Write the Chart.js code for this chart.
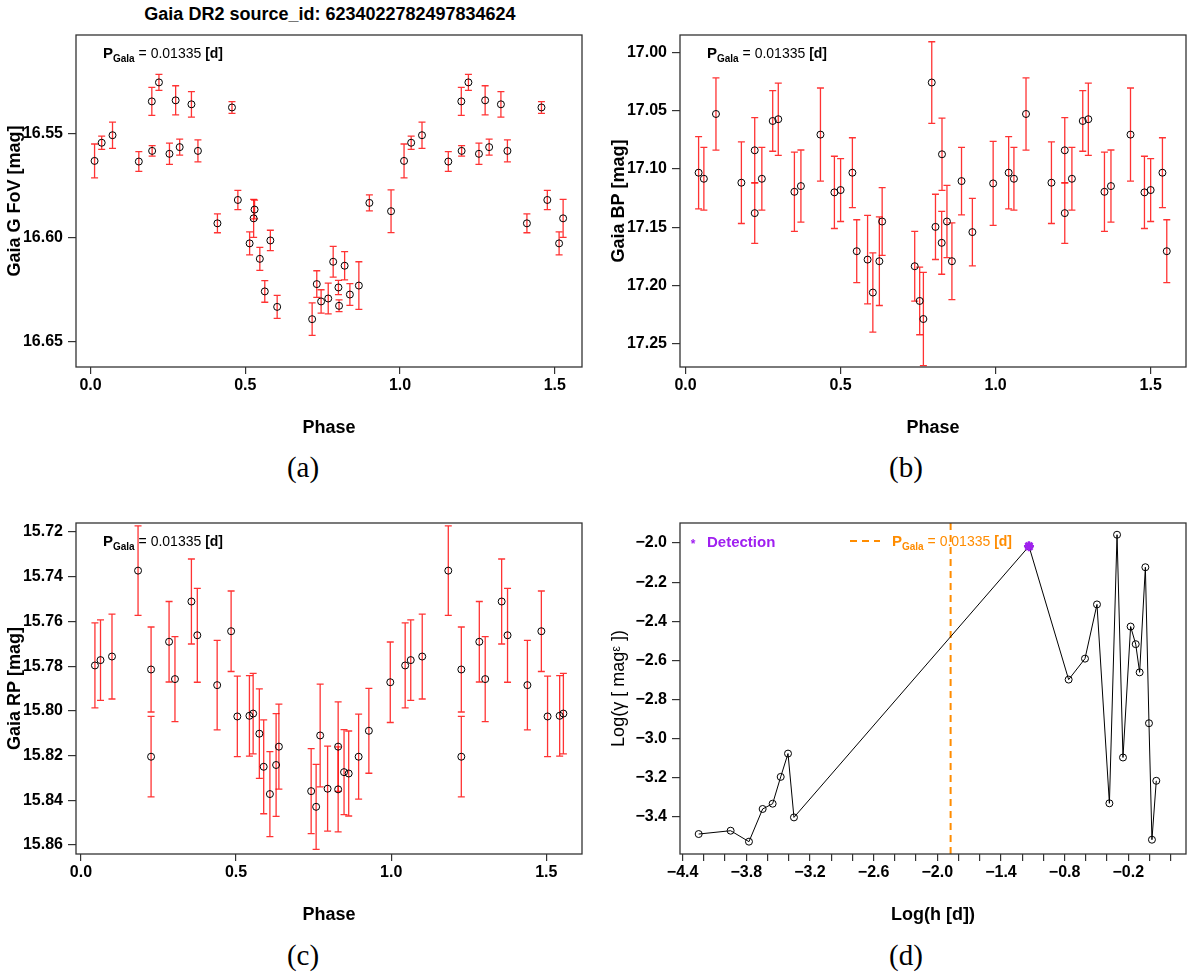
<!DOCTYPE html>
<html>
<head>
<meta charset="utf-8">
<script src="https://cdn.jsdelivr.net/npm/chart.js@4.4.0/dist/chart.umd.min.js"></script>
<style>
  body { margin: 0; background: #fff; }
  #page { position: relative; width: 1200px; height: 977px; overflow: hidden; font-family: "Liberation Sans", Arial, sans-serif; }
  canvas { position: absolute; }
  .title { position: absolute; left: 330px; top: 14px; transform: translate(-50%, -50%); font-weight: bold; font-size: 18px; white-space: nowrap; }
  .lab { position: absolute; transform: translate(-50%, -50%); font-family: "Liberation Serif", "DejaVu Serif", serif; font-size: 29px; }
</style>
</head>
<body>
<div id="page">
  <div class="title">Gaia DR2 source_id: 6234022782497834624</div>
  <canvas id="cA" width="604" height="450" style="left:0;top:0"></canvas>
  <canvas id="cB" width="596" height="450" style="left:604px;top:0"></canvas>
  <canvas id="cC" width="604" height="450" style="left:0;top:487px"></canvas>
  <canvas id="cD" width="596" height="450" style="left:604px;top:487px"></canvas>
  <div class="lab" style="left:303px;top:467px">(a)</div>
  <div class="lab" style="left:906px;top:467px">(b)</div>
  <div class="lab" style="left:303px;top:955px">(c)</div>
  <div class="lab" style="left:906px;top:955px">(d)</div>
</div>
<script>
// period found by Gaia [d]
const pGala = 0.01335

// (a) G FoV phased light curve (phase 0-1 plus repeated part up to ~1.53)
const gPhase = [0.013, 0.036, 0.071, 0.156, 0.198, 0.199, 0.221, 0.255, 0.275, 0.288, 0.326, 0.347,
  0.410, 0.457, 0.476, 0.514, 0.527, 0.530, 0.547, 0.563, 0.581, 0.603, 0.716, 0.731, 0.745, 0.768,
  0.784, 0.801, 0.803, 0.821, 0.838, 0.867, 0.901, 0.971,
  1.013, 1.036, 1.071, 1.156, 1.198, 1.199, 1.221, 1.255, 1.275, 1.288, 1.326, 1.347,
  1.410, 1.457, 1.476, 1.514, 1.527]
const gMag = [16.5633, 16.5546, 16.5510, 16.5636, 16.5348, 16.5585, 16.5257, 16.5599, 16.5343, 16.5567, 16.5362, 16.5585,
  16.5932, 16.5377, 16.5820, 16.6028, 16.5908, 16.5866, 16.6102, 16.6258, 16.6014, 16.6332, 16.6391, 16.6223, 16.6306, 16.6292,
  16.6116, 16.6239, 16.6327, 16.6135, 16.6273, 16.6230, 16.5834, 16.5874,
  16.5633, 16.5546, 16.5510, 16.5636, 16.5348, 16.5585, 16.5257, 16.5599, 16.5343, 16.5567, 16.5362, 16.5585,
  16.5932, 16.5377, 16.5820, 16.6028, 16.5908]
const gErr = [0.0081, 0.0032, 0.0063, 0.0047, 0.0067, 0.0025, 0.0038, 0.0051, 0.0070, 0.0038, 0.0061, 0.0053,
  0.0045, 0.0028, 0.0046, 0.0055, 0.0091, 0.0045, 0.0055, 0.0052, 0.0049, 0.0055, 0.0078, 0.0064, 0.0056, 0.0074,
  0.0074, 0.0034, 0.0028, 0.0068, 0.0052, 0.0114, 0.0038, 0.0102,
  0.0081, 0.0032, 0.0063, 0.0047, 0.0067, 0.0025, 0.0038, 0.0051, 0.0070, 0.0038, 0.0061, 0.0053,
  0.0045, 0.0028, 0.0046, 0.0055, 0.0091]

// (b) BP
const bpPhase = [0.042, 0.059, 0.098, 0.180, 0.223, 0.223, 0.246, 0.281, 0.299, 0.351, 0.372, 0.435,
  0.480, 0.500, 0.538, 0.552, 0.587, 0.604, 0.625, 0.634, 0.739, 0.755, 0.767, 0.794, 0.806, 0.827,
  0.826, 0.843, 0.859, 0.890, 0.925, 0.992,
  1.042, 1.059, 1.098, 1.180, 1.223, 1.223, 1.246, 1.281, 1.299, 1.351, 1.372, 1.435,
  1.480, 1.500, 1.538, 1.552]
const bpMag = [17.1032, 17.1084, 17.0528, 17.1118, 17.0840, 17.1379, 17.1084, 17.0588, 17.0573, 17.1196, 17.1147, 17.0705,
  17.1201, 17.1181, 17.1032, 17.1706, 17.1778, 17.2061, 17.1792, 17.1451, 17.1835, 17.2133, 17.2288, 17.0258, 17.1497, 17.0874,
  17.1634, 17.1451, 17.1792, 17.1104, 17.1542, 17.1124,
  17.1032, 17.1084, 17.0528, 17.1118, 17.0840, 17.1379, 17.1084, 17.0588, 17.0573, 17.1196, 17.1147, 17.0705,
  17.1201, 17.1181, 17.1032, 17.1706]
const bpErr = [0.031, 0.027, 0.031, 0.035, 0.028, 0.026, 0.027, 0.026, 0.031, 0.034, 0.031, 0.040,
  0.031, 0.027, 0.030, 0.027, 0.038, 0.034, 0.038, 0.029, 0.030, 0.029, 0.040, 0.035, 0.028, 0.031,
  0.027, 0.031, 0.033, 0.029, 0.029, 0.036,
  0.031, 0.027, 0.031, 0.035, 0.028, 0.026, 0.027, 0.026, 0.031, 0.034, 0.031, 0.040,
  0.031, 0.027, 0.030, 0.027]

// (c) RP
const rpPhase = [0.045, 0.063, 0.100, 0.184, 0.226, 0.226, 0.284, 0.303, 0.356, 0.375, 0.439, 0.484,
  0.504, 0.543, 0.555, 0.575, 0.589, 0.609, 0.629, 0.638, 0.742, 0.758, 0.771, 0.795, 0.829, 0.829,
  0.848, 0.863, 0.895, 0.928, 0.997,
  1.045, 1.063, 1.100, 1.184, 1.226, 1.226, 1.284, 1.303, 1.356, 1.375, 1.439, 1.484,
  1.504, 1.543, 1.555]
const rpMag = [15.7797, 15.7773, 15.7757, 15.7373, 15.7815, 15.8205, 15.7691, 15.7858, 15.7511, 15.7662, 15.7885, 15.7644,
  15.8025, 15.8022, 15.8012, 15.8102, 15.8250, 15.8372, 15.8242, 15.8160, 15.8359, 15.8429, 15.8110, 15.8348, 15.8160, 15.8351,
  15.8274, 15.8280, 15.8205, 15.8089, 15.7872,
  15.7797, 15.7773, 15.7757, 15.7373, 15.7815, 15.8205, 15.7691, 15.7858, 15.7511, 15.7662, 15.7885, 15.7644,
  15.8025, 15.8022, 15.8012]
const rpErr = [0.019, 0.018, 0.019, 0.020, 0.019, 0.018, 0.018, 0.019, 0.019, 0.021, 0.020, 0.018,
  0.018, 0.018, 0.018, 0.020, 0.021, 0.019, 0.023, 0.019, 0.019, 0.019, 0.023, 0.019, 0.020, 0.019,
  0.019, 0.019, 0.019, 0.019, 0.018,
  0.019, 0.018, 0.019, 0.020, 0.019, 0.018, 0.018, 0.019, 0.019, 0.021, 0.020, 0.018,
  0.018, 0.018, 0.018]

// (d) periodogram
const hLog = [-4.249, -3.948, -3.775, -3.646, -3.552, -3.476, -3.407, -3.351, -1.136, -0.762, -0.608,
  -0.495, -0.378, -0.306, -0.250, -0.178, -0.130, -0.093, -0.039, -0.005, 0.023, 0.064]
const gammaLog = [-3.487, -3.470, -3.526, -3.359, -3.332, -3.195, -3.076, -3.402, -2.017, -2.698, -2.591,
  -2.314, -3.330, -1.958, -3.096, -2.427, -2.517, -2.661, -2.124, -2.921, -3.516, -3.215]
const detLogH = [-1.136]
const detLogGamma = [-2.017]

// tick positions
const phaseTicks = [0.0, 0.5, 1.0, 1.5]
const gTicks = [16.55, 16.60, 16.65]
const bpTicks = [17.00, 17.05, 17.10, 17.15, 17.20, 17.25]
const rpTicks = [15.72, 15.74, 15.76, 15.78, 15.80, 15.82, 15.84, 15.86]
const hTicks = [-4.4, -4.2, -4.0, -3.8, -3.6, -3.4, -3.2, -3.0, -2.8, -2.6, -2.4, -2.2, -2.0,
  -1.8, -1.6, -1.4, -1.2, -1.0, -0.8, -0.6, -0.4, -0.2, 0.0, 0.2]
const hLabels = [-4.4, -3.8, -3.2, -2.6, -2.0, -1.4, -0.8, -0.2]
const gammaTicks = [-2.0, -2.2, -2.4, -2.6, -2.8, -3.0, -3.2, -3.4]

const FONT = '"Liberation Sans", Arial, sans-serif'
Chart.defaults.font.family = FONT
Chart.defaults.color = '#000'

const pts = (xs, ys) => xs.map((v, i) => ({ x: v, y: ys[i] }))
const fmt = d => v => (v < 0 ? '\u2212' : '') + Math.abs(v).toFixed(d)

function drawPGala(ctx, x, y, color) {
  ctx.fillStyle = color
  ctx.textAlign = 'left'
  ctx.textBaseline = 'alphabetic'
  const parts = [['bold 15px', 'P', 0], ['bold 10px', 'Gala', 4], ['14px', ' = 0.01335 ', 0], ['bold 14px', '[d]', 0]]
  parts.forEach(([f, t, dy]) => {
    ctx.font = f + ' ' + FONT
    ctx.fillText(t, x, y + dy)
    x += ctx.measureText(t).width
  })
}

const panelPlugin = {
  id: 'panel',
  beforeDatasetsDraw(chart) {
    const { ctx, chartArea: a, scales: { x, y } } = chart
    const cfg = chart.options.plugins.panel
    ctx.save()
    ctx.beginPath()
    ctx.rect(a.left, a.top, a.right - a.left, a.bottom - a.top)
    ctx.clip()
    // error bars
    ctx.strokeStyle = 'rgba(255,0,0,0.8)'
    ctx.lineWidth = 1.3
    chart.data.datasets.forEach(ds => {
      if (!ds.errors) return
      ds.data.forEach((p, i) => {
        const px = x.getPixelForValue(p.x)
        const y1 = y.getPixelForValue(p.y - ds.errors[i])
        const y2 = y.getPixelForValue(p.y + ds.errors[i])
        ctx.beginPath()
        ctx.moveTo(px, y1); ctx.lineTo(px, y2)
        ctx.moveTo(px - 3.5, y1); ctx.lineTo(px + 3.5, y1)
        ctx.moveTo(px - 3.5, y2); ctx.lineTo(px + 3.5, y2)
        ctx.stroke()
      })
    })
    // vertical line at Gaia period
    if (cfg.vline !== undefined) {
      const vx = x.getPixelForValue(cfg.vline)
      ctx.strokeStyle = '#FF8C00'
      ctx.lineWidth = 2
      ctx.setLineDash([7, 5])
      ctx.beginPath()
      ctx.moveTo(vx, a.top); ctx.lineTo(vx, a.bottom)
      ctx.stroke()
    }
    ctx.restore()
  },
  afterDraw(chart) {
    const { ctx, chartArea: a } = chart
    const cfg = chart.options.plugins.panel
    ctx.save()
    ctx.strokeStyle = '#333'
    ctx.lineWidth = 1.3
    ctx.strokeRect(a.left, a.top, a.right - a.left, a.bottom - a.top)
    if (cfg.pgala) drawPGala(ctx, a.left + 27, a.top + 23, '#000')
    if (cfg.legend) {
      ctx.fillStyle = '#A020F0'
      ctx.font = 'bold 12px ' + FONT
      ctx.textAlign = 'center'
      ctx.fillText('*', a.left + 13, a.top + 25)
      ctx.textAlign = 'left'
      ctx.font = 'bold 15px ' + FONT
      ctx.fillText('Detection', a.left + 27, a.top + 24)
      ctx.strokeStyle = '#FF8C00'
      ctx.lineWidth = 2
      ctx.setLineDash([7, 5])
      ctx.beginPath()
      ctx.moveTo(a.left + 170, a.top + 18); ctx.lineTo(a.left + 200, a.top + 18)
      ctx.stroke()
      ctx.setLineDash([])
      drawPGala(ctx, a.left + 212, a.top + 23, '#FF8C00')
    }
    ctx.restore()
  }
}

function axis(o) {
  return {
    type: 'linear',
    min: o.min,
    max: o.max,
    reverse: !!o.reverse,
    afterFit: s => { if (o.w) s.width = o.w; if (o.h) s.height = o.h },
    afterBuildTicks: s => { s.ticks = o.ticks.map(v => ({ value: v })) },
    grid: { drawOnChartArea: false, drawTicks: true, tickLength: o.tl || 7, color: '#333', lineWidth: 1.2 },
    border: { display: false },
    ticks: {
      autoSkip: false, maxRotation: 0, padding: o.pad, color: '#000',
      font: { size: 16, weight: 'bold' },
      callback: o.cb
    },
    title: {
      display: true, text: o.title, color: '#000',
      font: { size: 18, weight: o.titleWeight || 'bold' },
      padding: o.tpad
    }
  }
}

function makeChart(id, datasets, xo, yo, panel, top, right) {
  new Chart(document.getElementById(id), {
    type: 'scatter',
    data: { datasets },
    options: {
      responsive: false,
      animation: false,
      events: [],
      layout: { padding: { left: 0, top, right, bottom: 0 } },
      plugins: { legend: { display: false }, tooltip: { enabled: false }, panel },
      scales: { x: axis(xo), y: axis(yo) }
    },
    plugins: [panelPlugin]
  })
}

function lcSet(xs, ys, errs) {
  return {
    data: pts(xs, ys), errors: errs,
    pointRadius: 3.5, pointBorderWidth: 1, pointBorderColor: '#000',
    pointBackgroundColor: 'rgba(0,0,0,0)', showLine: false
  }
}

const phaseX = (min, max) => ({
  min, max, ticks: phaseTicks, cb: fmt(1), h: 83, pad: 2,
  title: 'Phase', tpad: { top: 0, bottom: 11 }
})
const magY = (min, max, ticks, title) => ({
  min, max, reverse: true, ticks, cb: fmt(2), w: 76, tl: 8, pad: 5,
  title, tpad: { top: 4, bottom: 0 }
})

makeChart('cA', [lcSet(gPhase, gMag, gErr)],
  phaseX(-0.047, 1.588), magY(16.503, 16.662, gTicks, 'Gaia G FoV [mag]'),
  { pgala: true }, 35, 22)

makeChart('cB', [lcSet(bpPhase, bpMag, bpErr)],
  phaseX(-0.018, 1.614), magY(16.985, 17.270, bpTicks, 'Gaia BP [mag]'),
  { pgala: true }, 35, 14)

makeChart('cC', [lcSet(rpPhase, rpMag, rpErr)],
  phaseX(-0.016, 1.615), magY(15.716, 15.864, rpTicks, 'Gaia RP [mag]'),
  { pgala: true }, 36, 22)

makeChart('cD', [
    {
      data: pts(detLogH, detLogGamma), pointStyle: 'star', pointRadius: 5,
      pointBorderWidth: 2.5, pointBorderColor: '#A020F0', showLine: false
    },
    {
      data: pts(hLog, gammaLog), showLine: true, borderColor: '#000', borderWidth: 1,
      pointRadius: 3.5, pointBorderWidth: 1, pointBorderColor: '#000',
      pointBackgroundColor: 'rgba(0,0,0,0)'
    }
  ],
  {
    min: -4.425, max: 0.344, ticks: hTicks, h: 83, pad: 2,
    cb: v => hLabels.some(l => Math.abs(l - v) < 1e-6) ? fmt(1)(v) : '',
    title: 'Log(h [d])', tpad: { top: 0, bottom: 11 }
  },
  {
    min: -3.589, max: -1.898, ticks: gammaTicks, cb: fmt(1), w: 76, tl: 8, pad: 5,
    title: 'Log(\u03B3 [ mag\u1D4B ])', titleWeight: 'normal', tpad: { top: 4, bottom: 0 }
  },
  { legend: true, vline: Math.log10(pGala) }, 36, 14)
</script>
</body>
</html>
